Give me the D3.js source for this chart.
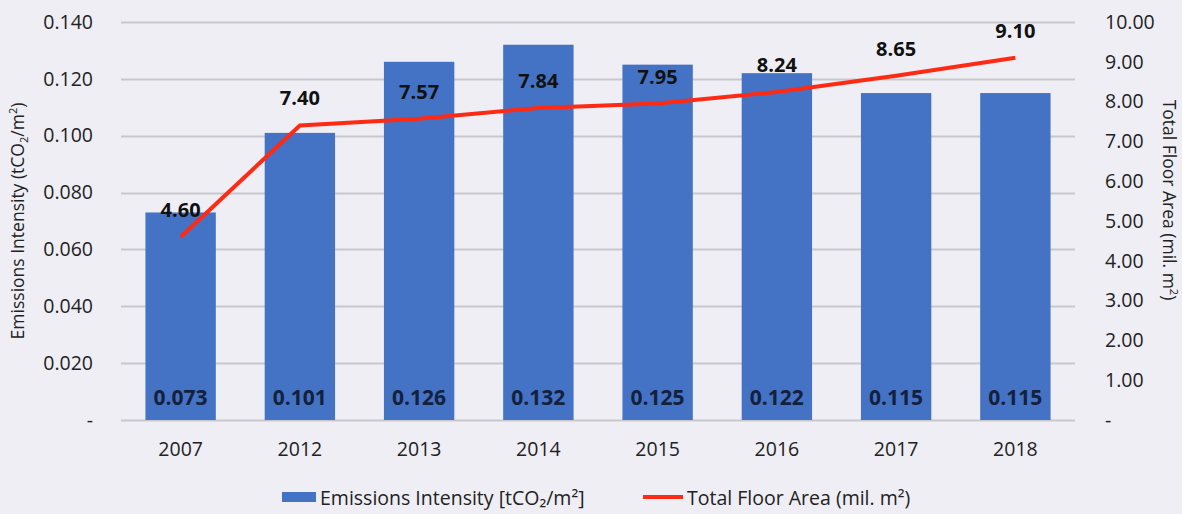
<!DOCTYPE html>
<html>
<head>
<meta charset="utf-8">
<script src="https://cdn.jsdelivr.net/npm/d3@7"></script>
<style>
  body { margin: 0; background: #eeeef4; }
  svg { display: block; font-family: "Open Sans", "Noto Sans", sans-serif; }
</style>
</head>
<body>
<svg id="chart" width="1182" height="514"></svg>
<script>
var years = ["2007", "2012", "2013", "2014", "2015", "2016", "2017", "2018"];
var intensity = [0.073, 0.101, 0.126, 0.132, 0.125, 0.122, 0.115, 0.115];
var floorArea = [4.60, 7.40, 7.57, 7.84, 7.95, 8.24, 8.65, 9.10];
var leftTicks = [0, 0.02, 0.04, 0.06, 0.08, 0.10, 0.12, 0.14];
var rightTicks = [0, 1, 2, 3, 4, 5, 6, 7, 8, 9, 10];

var svg = d3.select("#chart");
var margin = {top: 22, right: 107, bottom: 94, left: 121};
var width = 1182 - margin.left - margin.right;
var height = 514 - margin.top - margin.bottom;

var g = svg.append("g")
    .attr("transform", "translate(" + margin.left + "," + margin.top + ")");

var x = d3.scaleBand().domain(years).range([0, width]).paddingInner(0.41).paddingOuter(0.205);
var yL = d3.scaleLinear().domain([0, 0.14]).range([height, 0]);
var yR = d3.scaleLinear().domain([0, 10]).range([height, 0]);

// gridlines
g.selectAll("line.grid")
    .data(leftTicks)
    .enter().append("line")
    .attr("class", "grid")
    .attr("x1", 0)
    .attr("x2", width)
    .attr("y1", function (d) { return Math.round(yL(d)) + 0.5; })
    .attr("y2", function (d) { return Math.round(yL(d)) + 0.5; })
    .attr("stroke", "#c8c8cc")
    .attr("stroke-width", 2);

function styleTicks(s) {
    s.select(".domain").remove();
    s.selectAll("text")
        .attr("font-size", 19.5).attr("fill", "#222")
        .attr("font-family", "Open Sans, sans-serif");
}

// left axis
var leftAxis = d3.axisLeft(yL).tickValues(leftTicks).tickSize(0).tickPadding(28)
    .tickFormat(function (d) { return d === 0 ? "-" : d3.format(".3f")(d); });
g.append("g").call(leftAxis).call(styleTicks);

// right axis
var rightAxis = d3.axisRight(yR).tickValues(rightTicks).tickSize(0).tickPadding(30)
    .tickFormat(function (d) { return d === 0 ? "-" : d3.format(".2f")(d); });
g.append("g").attr("transform", "translate(" + width + ",0)").call(rightAxis).call(styleTicks);

// x axis
var xAxis = d3.axisBottom(x).tickSize(0).tickPadding(22);
g.append("g").attr("transform", "translate(0," + height + ")").call(xAxis).call(styleTicks);

// bars
g.selectAll("rect.bar")
    .data(intensity)
    .enter().append("rect")
    .attr("class", "bar")
    .attr("x", function (d, i) { return x(years[i]); })
    .attr("width", x.bandwidth())
    .attr("y", function (d) { return yL(d); })
    .attr("height", function (d) { return height - yL(d); })
    .attr("fill", "#4472c4");

// bar value labels
g.selectAll("text.barlabel")
    .data(intensity)
    .enter().append("text")
    .attr("class", "barlabel")
    .attr("x", function (d, i) { return x(years[i]) + x.bandwidth() / 2; })
    .attr("y", height - 15)
    .attr("text-anchor", "middle")
    .attr("font-size", 21)
    .attr("font-weight", "bold")
    .attr("fill", "#14213d")
    .text(function (d) { return d3.format(".3f")(d); });

// line
var line = d3.line()
    .x(function (d, i) { return x(years[i]) + x.bandwidth() / 2; })
    .y(function (d) { return yR(d); });
g.append("path")
    .datum(floorArea)
    .attr("d", line)
    .attr("fill", "none")
    .attr("stroke", "#ff2a14")
    .attr("stroke-width", 4);

// line labels
g.selectAll("text.linelabel")
    .data(floorArea)
    .enter().append("text")
    .attr("class", "linelabel")
    .attr("x", function (d, i) { return x(years[i]) + x.bandwidth() / 2; })
    .attr("y", function (d) { return yR(d) - 20; })
    .attr("text-anchor", "middle")
    .attr("font-size", 20)
    .attr("font-weight", "bold")
    .attr("fill", "#111")
    .text(function (d) { return d3.format(".2f")(d); });

// axis titles
var lt = svg.append("text")
    .attr("transform", "translate(24," + (margin.top + height / 2) + ") rotate(-90)")
    .attr("text-anchor", "middle")
    .attr("font-size", 17.5)
    .attr("fill", "#222");
lt.append("tspan").text("Emissions Intensity (tCO");
lt.append("tspan").attr("font-size", 11).attr("dy", 4).text("2");
lt.append("tspan").attr("dy", -4).text("/m");
lt.append("tspan").attr("font-size", 11).attr("dy", -7).text("2");
lt.append("tspan").attr("dy", 7).text(")");

var rt = svg.append("text")
    .attr("transform", "translate(1163,200) rotate(90)")
    .attr("text-anchor", "middle")
    .attr("font-size", 17.5)
    .attr("fill", "#222");
rt.append("tspan").text("Total Floor Area  (mil. m");
rt.append("tspan").attr("font-size", 11).attr("dy", -7).text("2");
rt.append("tspan").attr("dy", 7).text(")");

// legend
var legend = svg.append("g").attr("font-size", 19.5).attr("fill", "#222");
legend.append("rect").attr("x", 282).attr("y", 492).attr("width", 34).attr("height", 10).attr("fill", "#4472c4");
legend.append("text").attr("x", 320).attr("y", 505).text("Emissions Intensity [tCO\u2082/m\u00b2]");
legend.append("line").attr("x1", 643).attr("x2", 683).attr("y1", 497).attr("y2", 497)
    .attr("stroke", "#ff2a14").attr("stroke-width", 4);
legend.append("text").attr("x", 687).attr("y", 505).text("Total Floor Area (mil. m\u00b2)");
</script>
</body>
</html>
